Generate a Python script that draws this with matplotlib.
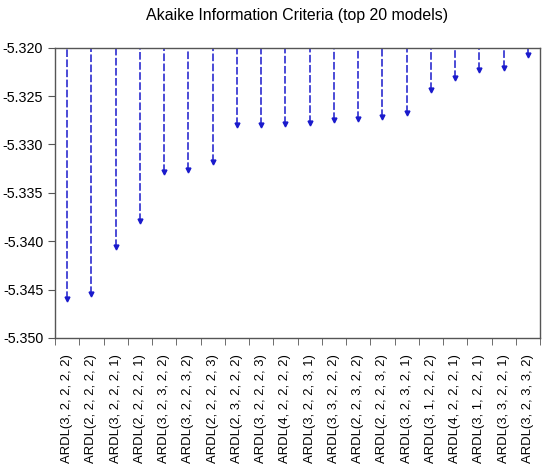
import numpy as np
import matplotlib.pyplot as plt

plt.rcParams["font.family"] = ["Liberation Sans", "DejaVu Sans"]

models = [
    "ARDL(3, 2, 2, 2, 2)", "ARDL(2, 2, 2, 2, 2)", "ARDL(3, 2, 2, 2, 1)",
    "ARDL(2, 2, 2, 2, 1)", "ARDL(3, 2, 3, 2, 2)", "ARDL(3, 2, 2, 3, 2)",
    "ARDL(2, 2, 2, 2, 3)", "ARDL(2, 3, 2, 2, 2)", "ARDL(3, 2, 2, 2, 3)",
    "ARDL(4, 2, 2, 2, 2)", "ARDL(3, 2, 2, 3, 1)", "ARDL(3, 3, 2, 2, 2)",
    "ARDL(2, 2, 3, 2, 2)", "ARDL(2, 2, 2, 3, 2)", "ARDL(3, 2, 3, 2, 1)",
    "ARDL(3, 1, 2, 2, 2)", "ARDL(4, 2, 2, 2, 1)", "ARDL(3, 1, 2, 2, 1)",
    "ARDL(3, 3, 2, 2, 1)", "ARDL(3, 2, 3, 3, 2)",
]
aic = [
    -5.3460, -5.3455, -5.3406, -5.3379, -5.3328, -5.3326, -5.3318,
    -5.3280, -5.3280, -5.3279, -5.3278, -5.3275, -5.3274, -5.3272,
    -5.3268, -5.3244, -5.3231, -5.3223, -5.3221, -5.3208,
]
y_top = -5.320
y_bottom = -5.350

blue = "#1a1acc"
frame = "#555555"

fig = plt.figure(figsize=(5.5, 4.72), dpi=100)
ax = fig.add_axes([0.1, 0.284, 0.882, 0.615])

x = np.arange(len(models))
ax.vlines(x, aic, y_top, colors=blue, linestyles=(0, (5, 1.6)), linewidth=1.1)
ax.plot(x, aic, linestyle="none", marker="v", markersize=3.5, color=blue)

ax.set_xlim(-0.5, len(models) - 0.5)
ax.set_ylim(y_bottom, y_top)
ax.set_yticks(np.arange(y_bottom, y_top + 0.0001, 0.005))
ax.yaxis.set_major_formatter(plt.FormatStrFormatter("%.3f"))

ax.set_xticks(x)
ax.set_xticklabels(models, rotation=90, fontsize=9.4)
ax.set_xticks(np.arange(-0.5, len(models), 1.0), minor=True)
ax.tick_params(axis="x", which="major", length=0, pad=12)
ax.tick_params(axis="x", which="minor", length=5, color=frame)
ax.tick_params(axis="y", length=5, color=frame, labelsize=10.3)

for s in ax.spines.values():
    s.set_color(frame)
    s.set_linewidth(1.0)

ax.set_title("Akaike Information Criteria (top 20 models)", fontsize=11.4, pad=20)

fig.savefig("out.png", dpi=100)
